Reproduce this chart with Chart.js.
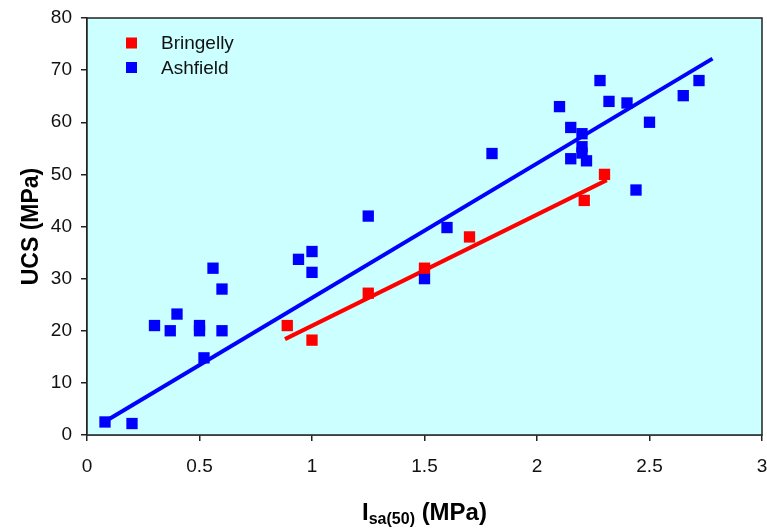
<!DOCTYPE html>
<html>
<head>
<meta charset="utf-8">
<title>UCS vs Isa(50)</title>
<script src="https://cdn.jsdelivr.net/npm/chart.js@4.4.1/dist/chart.umd.min.js"></script>
<style>
    html, body { margin: 0; padding: 0; background: #ffffff; }
    #wrap { width: 767px; height: 529px; }
</style>
</head>
<body>
<div id="wrap"><canvas id="ucs-chart" width="767" height="529"></canvas></div>
<script>
// Test results: point load index (MPa) against UCS (MPa)
const bringellyX = [0.89, 1.0, 1.25, 1.5, 1.7, 2.21, 2.3];
const bringellyY = [21, 18.2, 27.2, 32, 38, 45, 50];

const ashfieldX = [0.08, 0.2, 0.3, 0.37, 0.4, 0.5, 0.5, 0.52, 0.56, 0.6, 0.6,
    0.94, 1.0, 1.0, 1.25, 1.5, 1.6, 1.8, 2.1, 2.15, 2.15, 2.2, 2.2, 2.2, 2.22,
    2.28, 2.32, 2.4, 2.44, 2.5, 2.65, 2.72];
const ashfieldY = [2.5, 2.2, 21, 20, 23.2, 21, 20, 14.8, 32, 28, 20,
    33.7, 35.2, 31.2, 42, 30, 39.8, 54, 63, 59, 53, 57.8, 55.3, 54.1, 52.6,
    68, 64, 63.7, 47, 60, 65.1, 68];

// Linear fit end points for each site
const bringellyFitX = [0.88, 2.31];
const bringellyFitY = [18.4, 48.9];
const ashfieldFitX = [0.08, 2.78];
const ashfieldFitY = [2.6, 72.2];

const xTicks = [0, 0.5, 1, 1.5, 2, 2.5, 3];
const yTicks = [0, 10, 20, 30, 40, 50, 60, 70, 80];

const RED = '#ff0000';
const BLUE = '#0000ff';
const FONT = '"Liberation Sans", Arial, sans-serif';

const toPoints = (xs, ys) => xs.map((x, i) => ({ x: x, y: ys[i] }));

// Plot background and frame
const plotFrame = {
    id: 'plotFrame',
    beforeDatasetsDraw(chart) {
        const { ctx, chartArea: a } = chart;
        ctx.save();
        ctx.fillStyle = '#ccffff';
        ctx.fillRect(a.left, a.top, a.right - a.left, a.bottom - a.top);
        ctx.restore();
    },
    afterDatasetsDraw(chart) {
        const { ctx, chartArea: a } = chart;
        ctx.save();
        ctx.strokeStyle = '#222222';
        ctx.lineWidth = 1.5;
        ctx.strokeRect(a.left, a.top, a.right - a.left, a.bottom - a.top);
        ctx.restore();
    }
};

// Legend inside the plot, top left
const innerLegend = {
    id: 'innerLegend',
    afterDraw(chart) {
        const { ctx, chartArea: a } = chart;
        const items = chart.data.datasets.filter(d => d.showInLegend);
        ctx.save();
        ctx.font = '19px ' + FONT;
        ctx.textBaseline = 'middle';
        items.forEach((d, i) => {
            const y = a.top + 25 + i * 24.5;
            ctx.fillStyle = d.backgroundColor;
            ctx.fillRect(a.left + 39, y - 5.5, 11, 11);
            ctx.fillStyle = '#111111';
            ctx.fillText(d.label, a.left + 74, y + 1);
        });
        ctx.restore();
    }
};

// Axis titles, the x title carries a subscript
const axisTitles = {
    id: 'axisTitles',
    afterDraw(chart) {
        const { ctx, chartArea: a } = chart;
        ctx.save();
        ctx.fillStyle = '#000000';
        ctx.textBaseline = 'alphabetic';

        const main = 'bold 24px ' + FONT;
        const sub = 'bold 16px ' + FONT;
        ctx.font = main;
        const wI = ctx.measureText('I').width;
        const wRest = ctx.measureText(' (MPa)').width;
        ctx.font = sub;
        const wSub = ctx.measureText('sa(50)').width;
        const total = wI + wSub + wRest;
        let x = (a.left + a.right) / 2 - total / 2;
        const base = 520;
        ctx.font = main;
        ctx.fillText('I', x, base);
        x += wI;
        ctx.font = sub;
        ctx.fillText('sa(50)', x, base + 4);
        x += wSub;
        ctx.font = main;
        ctx.fillText(' (MPa)', x, base);

        ctx.translate(38, (a.top + a.bottom) / 2);
        ctx.rotate(-Math.PI / 2);
        ctx.textAlign = 'center';
        ctx.font = 'bold 23px ' + FONT;
        ctx.fillText('UCS (MPa)', 0, 0);
        ctx.restore();
    }
};

// Keep the plot box fixed: no extra room reserved for edge tick labels
function fixBox(size) {
    return scale => {
        if (scale.isHorizontal()) {
            scale.height = size;
        } else {
            scale.width = size;
        }
        scale.paddingLeft = 0;
        scale.paddingRight = 0;
        scale.paddingTop = 0;
        scale.paddingBottom = 0;
    };
}

const ctx = document.getElementById('ucs-chart').getContext('2d');
new Chart(ctx, {
    type: 'scatter',
    data: {
        datasets: [
            {
                label: 'Bringelly',
                showInLegend: true,
                data: toPoints(bringellyX, bringellyY),
                backgroundColor: RED,
                borderColor: RED,
                borderWidth: 0,
                pointStyle: 'rect',
                pointRadius: 8,
                order: 1
            },
            {
                label: 'Ashfield',
                showInLegend: true,
                data: toPoints(ashfieldX, ashfieldY),
                backgroundColor: BLUE,
                borderColor: BLUE,
                borderWidth: 0,
                pointStyle: 'rect',
                pointRadius: 8,
                order: 2
            },
            {
                label: 'Bringelly fit',
                type: 'line',
                data: toPoints(bringellyFitX, bringellyFitY),
                borderColor: RED,
                borderWidth: 4,
                pointRadius: 0,
                fill: false,
                order: 3
            },
            {
                label: 'Ashfield fit',
                type: 'line',
                data: toPoints(ashfieldFitX, ashfieldFitY),
                borderColor: BLUE,
                borderWidth: 4,
                pointRadius: 0,
                fill: false,
                order: 4
            }
        ]
    },
    options: {
        responsive: false,
        animation: false,
        layout: {
            autoPadding: false,
            padding: { left: 0, right: 5, top: 18, bottom: 0 }
        },
        plugins: {
            legend: { display: false },
            tooltip: { enabled: false }
        },
        scales: {
            x: {
                type: 'linear',
                min: 0,
                max: 3,
                afterBuildTicks: scale => {
                    scale.ticks = xTicks.map(v => ({ value: v }));
                },
                afterFit: fixBox(94),
                grid: {
                    drawOnChartArea: false,
                    drawTicks: true,
                    tickLength: 6,
                    color: '#222222',
                    lineWidth: 1.5
                },
                border: { display: true, color: '#222222', width: 1.5 },
                ticks: {
                    padding: 14,
                    color: '#111111',
                    font: { family: FONT, size: 19 },
                    callback: v => String(v)
                }
            },
            y: {
                type: 'linear',
                min: 0,
                max: 80,
                afterBuildTicks: scale => {
                    scale.ticks = yTicks.map(v => ({ value: v }));
                },
                afterFit: fixBox(87),
                grid: {
                    drawOnChartArea: false,
                    drawTicks: true,
                    tickLength: 6,
                    color: '#222222',
                    lineWidth: 1.5
                },
                border: { display: true, color: '#222222', width: 1.5 },
                ticks: {
                    padding: 9,
                    color: '#111111',
                    font: { family: FONT, size: 19 },
                    callback: v => String(v)
                }
            }
        }
    },
    plugins: [plotFrame, innerLegend, axisTitles]
});
</script>
</body>
</html>
